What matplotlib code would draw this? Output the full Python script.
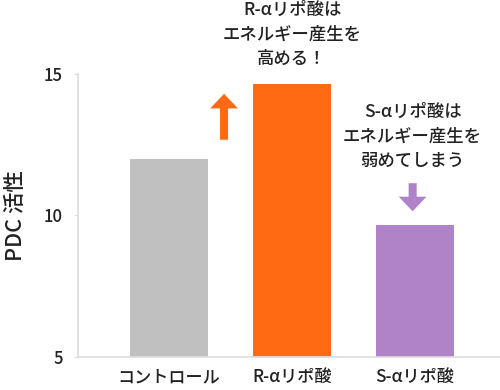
import matplotlib
matplotlib.use("Agg")
import matplotlib.pyplot as plt

plt.rcParams['font.family'] = ['Noto Sans CJK JP', 'DejaVu Sans']

categories = ["コントロール", "R-αリポ酸", "S-αリポ酸"]
values = [12.0, 14.65, 9.65]
colors = ["#c0c0c0", "#ff6a13", "#b083c8"]
y_ticks = [5, 10, 15]
note_r = "R-αリポ酸は\nエネルギー産生を\n高める！"
note_s = "S-αリポ酸は\nエネルギー産生を\n弱めてしまう"

fig = plt.figure(figsize=(5, 3.9), dpi=100)
ax = fig.add_axes([0.156, 0.085, 0.844, 0.725])

x = range(len(categories))
ax.bar(x, values, width=0.635, color=colors, zorder=2)

ax.set_xlim(-0.74, 2.69)
ax.set_ylim(5, 15)
ax.set_yticks(y_ticks)
ax.set_xticks(list(x))
ax.set_xticklabels(categories, fontsize=12.3, color="#222222", fontweight="medium")
ax.tick_params(axis='x', length=0, pad=8)
ax.tick_params(axis='y', length=3, color="#dddddd", labelsize=12, labelcolor="#222222", pad=8)
for lab in ax.get_yticklabels():
    lab.set_fontweight("medium")
ax.set_ylabel("PDC 活性", fontsize=15.5, color="#222222", labelpad=12, fontweight="medium")

for s in ["top", "right"]:
    ax.spines[s].set_visible(False)
for s in ["left", "bottom"]:
    ax.spines[s].set_color("#dddddd")
    ax.spines[s].set_linewidth(1.2)

# arrows
arrow = "simple,head_width=2.0,head_length=1.05,tail_width=0.58"
ax.annotate("", xy=(0.447, 14.4), xytext=(0.447, 12.58),
            arrowprops=dict(arrowstyle=arrow, color=colors[1], lw=0))
ax.annotate("", xy=(1.98, 10.05), xytext=(1.98, 11.24),
            arrowprops=dict(arrowstyle=arrow, color=colors[2], lw=0))

ax.text(1, 16.4, note_r, ha="center", va="center", fontsize=12.5, fontweight="medium",
        color="#222222", linespacing=1.45, clip_on=False)
ax.text(1.98, 12.8, note_s, ha="center", va="center", fontsize=12.5, fontweight="medium",
        color="#222222", linespacing=1.45, clip_on=False)

fig.savefig("out.png", dpi=100)
